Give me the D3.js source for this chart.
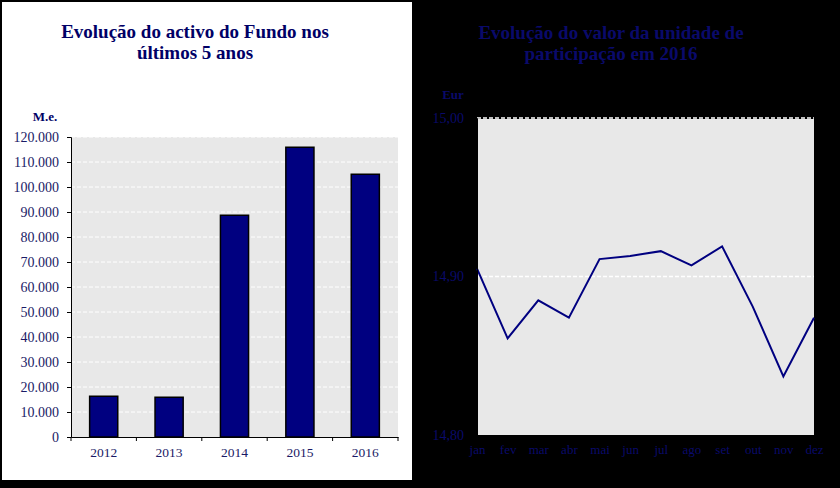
<!DOCTYPE html>
<html>
<head>
<meta charset="utf-8">
<script src="https://cdn.jsdelivr.net/npm/d3@7"></script>
<style>
  html, body { margin: 0; padding: 0; background: #000; }
  svg { display: block; }
  text { font-family: "Liberation Serif", "Times New Roman", serif; }
</style>
</head>
<body>
<svg width="840" height="488"></svg>
<script>
// Data
const years = ['2012', '2013', '2014', '2015', '2016'];
const assets = [16300, 15900, 88700, 115900, 105100];
const assetTicks = [0, 10000, 20000, 30000, 40000, 50000, 60000, 70000, 80000, 90000, 100000, 110000, 120000];

const months = ['jan', 'fev', 'mar', 'abr', 'mai', 'jun', 'jul', 'ago', 'set', 'out', 'nov', 'dez'];
const unitValues = [14.905, 14.861, 14.885, 14.874, 14.911, 14.913, 14.916, 14.907, 14.919, 14.881, 14.837, 14.874];
const unitTicks = [14.80, 14.90, 15.00];

const svg = d3.select('svg');
const navy = '#000066';
const ptLocale = d3.formatLocale({ decimal: ',', thousands: '.', grouping: [3], currency: ['', ' €'] });

// Page background: black with the white left panel
svg.append('rect').attr('width', 840).attr('height', 488).attr('fill', '#000');
svg.append('rect')
  .attr('x', 2).attr('y', 2)
  .attr('width', 410).attr('height', 478)
  .attr('fill', '#fff');

// ---------- Left chart: fund assets ----------
const left = { x0: 71, x1: 398, y0: 137, y1: 437 };

const xBand = d3.scaleBand().domain(years).range([left.x0, left.x1])
  .paddingInner(0.57).paddingOuter(0.285);
const yAssets = d3.scaleLinear().domain([0, 120000]).range([left.y1, left.y0]);

svg.append('rect')
  .attr('x', left.x0).attr('y', left.y0)
  .attr('width', left.x1 - left.x0).attr('height', left.y1 - left.y0)
  .attr('fill', '#e8e8e8');

svg.append('g')
  .selectAll('line')
  .data(assetTicks.slice(1))
  .join('line')
  .attr('x1', left.x0).attr('x2', left.x1)
  .attr('y1', (d) => yAssets(d)).attr('y2', (d) => yAssets(d))
  .attr('stroke', '#fff')
  .attr('stroke-dasharray', '4,2');

svg.append('g')
  .selectAll('rect')
  .data(assets)
  .join('rect')
  .attr('x', (d, i) => xBand(years[i]))
  .attr('y', (d) => yAssets(d))
  .attr('width', xBand.bandwidth())
  .attr('height', (d) => yAssets(0) - yAssets(d))
  .attr('fill', '#000080')
  .attr('stroke', '#000')
  .attr('stroke-width', 1.5);

const yAxisL = svg.append('g')
  .attr('transform', `translate(${left.x0}, 0)`)
  .call(d3.axisLeft(yAssets).tickValues(assetTicks).tickSize(4).tickPadding(8)
    .tickFormat(ptLocale.format(',.0f')));
yAxisL.selectAll('text').style('font-size', '14px').attr('fill', '#1a1a66');

const xAxisL = svg.append('g')
  .attr('transform', `translate(0, ${left.y1})`)
  .call(d3.axisBottom(xBand).tickSize(0).tickPadding(10));
xAxisL.selectAll('text').style('font-size', '13.5px').attr('fill', '#1a1a66');

// ticks between the categories
const step = xBand.step();
const bounds = d3.range(years.length + 1).map((i) => left.x0 + i * step);
svg.append('g')
  .selectAll('line')
  .data(bounds)
  .join('line')
  .attr('x1', (d) => d).attr('x2', (d) => d)
  .attr('y1', left.y1).attr('y2', left.y1 + 4)
  .attr('stroke', '#000');

svg.append('text')
  .attr('x', 45).attr('y', 121)
  .attr('text-anchor', 'middle')
  .style('font-size', '13px').style('font-weight', 'bold')
  .attr('fill', navy)
  .text('M.e.');

const titleL = svg.append('text')
  .attr('text-anchor', 'middle')
  .style('font-size', '19px').style('font-weight', 'bold')
  .attr('fill', navy);
titleL.append('tspan').attr('x', 195).attr('y', 38).text('Evolução do activo do Fundo nos');
titleL.append('tspan').attr('x', 195).attr('y', 59).text('últimos 5 anos');

// ---------- Right chart: unit value ----------
const right = { x0: 477, x1: 814, y0: 118, y1: 435 };

const xPoint = d3.scalePoint().domain(months).range([right.x0, right.x1]);
const yUnit = d3.scaleLinear().domain([14.80, 15.00]).range([right.y1, right.y0]);

svg.append('rect')
  .attr('x', right.x0).attr('y', right.y0 + 1)
  .attr('width', right.x1 - right.x0).attr('height', right.y1 - right.y0 - 1)
  .attr('fill', '#e8e8e8');

svg.append('g')
  .selectAll('line')
  .data(unitTicks.slice(1))
  .join('line')
  .attr('x1', right.x0).attr('x2', right.x1)
  .attr('y1', (d) => yUnit(d)).attr('y2', (d) => yUnit(d))
  .attr('stroke', '#fff')
  .attr('stroke-width', 1.5)
  .attr('stroke-dasharray', '4,2');

const line = d3.line()
  .x((d, i) => xPoint(months[i]))
  .y((d) => yUnit(d));

svg.append('path')
  .datum(unitValues)
  .attr('d', line)
  .attr('fill', 'none')
  .attr('stroke', '#000080')
  .attr('stroke-width', 2);

const yAxisR = svg.append('g')
  .attr('transform', `translate(${right.x0}, 0)`)
  .call(d3.axisLeft(yUnit).tickValues(unitTicks).tickSize(4).tickPadding(9)
    .tickFormat(ptLocale.format(',.2f')));
yAxisR.select('.domain').attr('stroke', '#000');
yAxisR.selectAll('line').attr('stroke', '#000');
yAxisR.selectAll('text').style('font-size', '14px').attr('fill', '#0a0a6a');

const xAxisR = svg.append('g')
  .attr('transform', `translate(0, ${right.y1})`)
  .call(d3.axisBottom(xPoint).tickSize(0).tickPadding(10));
xAxisR.select('.domain').attr('stroke', '#000');
xAxisR.selectAll('text').style('font-size', '13px').attr('fill', '#0a0a6a');

svg.append('text')
  .attr('x', 453).attr('y', 99)
  .attr('text-anchor', 'middle')
  .style('font-size', '13px').style('font-weight', 'bold')
  .attr('fill', '#0a0a6a')
  .text('Eur');

const titleR = svg.append('text')
  .attr('text-anchor', 'middle')
  .style('font-size', '19px').style('font-weight', 'bold')
  .attr('fill', '#0a0a6a');
titleR.append('tspan').attr('x', 611).attr('y', 39).text('Evolução do valor da unidade de');
titleR.append('tspan').attr('x', 611).attr('y', 60).text('participação em 2016');
</script>
</body>
</html>
